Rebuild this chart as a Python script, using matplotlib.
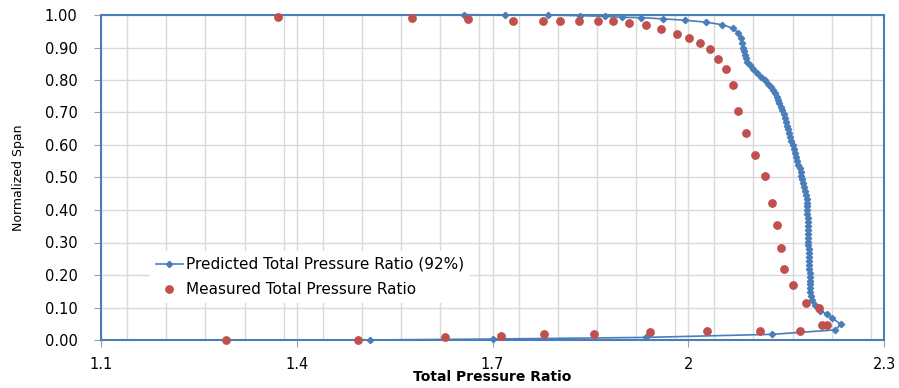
import matplotlib
matplotlib.use("Agg")
import matplotlib.pyplot as plt
from matplotlib.ticker import MultipleLocator, FormatStrFormatter

# Predicted total pressure ratio (92%) -- ordered along the curve, hub to tip
pred_x = [1.513, 1.700, 1.935, 2.129, 2.225, 2.234, 2.221, 2.212, 2.202, 2.194, 2.189,
          2.1875, 2.1870, 2.1868, 2.1866, 2.1864, 2.1862, 2.1860, 2.1858, 2.1856, 2.1853,
          2.1850, 2.1847, 2.1845, 2.1842, 2.1840, 2.1838, 2.1836, 2.1834, 2.1832, 2.1830,
          2.1828, 2.1826, 2.1824, 2.1822, 2.1820, 2.1817, 2.1810,
          2.1790, 2.1775, 2.1763, 2.1748, 2.1735, 2.1722, 2.1705, 2.1685, 2.1668, 2.1651,
          2.1635, 2.1617, 2.1600, 2.1582, 2.1562, 2.1545, 2.1530, 2.1512, 2.1495, 2.1478,
          2.1460, 2.1440, 2.1421, 2.1398, 2.1378, 2.1356, 2.1330, 2.1300, 2.1268, 2.1225,
          2.1176, 2.1115, 2.1049, 2.0995, 2.0946, 2.0905, 2.0885, 2.0870, 2.0850, 2.0839,
          2.0829, 2.0804, 2.0767, 2.0690, 2.0522, 2.0272, 1.9950, 1.9618, 1.9276, 1.8980,
          1.8724, 1.8341, 1.7855, 1.7192, 1.6568]
pred_y = [0.000, 0.003, 0.008, 0.0175, 0.031, 0.048, 0.067, 0.080, 0.090, 0.108, 0.123,
          0.135, 0.147, 0.159, 0.171, 0.183, 0.195, 0.207, 0.219, 0.231, 0.243,
          0.255, 0.267, 0.279, 0.291, 0.303, 0.315, 0.327, 0.339, 0.351, 0.363,
          0.375, 0.387, 0.399, 0.411, 0.423, 0.435, 0.447,
          0.460, 0.471, 0.482, 0.494, 0.505, 0.516, 0.528, 0.540, 0.552, 0.564,
          0.576, 0.588, 0.600, 0.612, 0.624, 0.636, 0.648, 0.660, 0.672, 0.684,
          0.696, 0.708, 0.718, 0.729, 0.739, 0.749, 0.759, 0.769, 0.779, 0.789,
          0.800, 0.810, 0.821, 0.833, 0.846, 0.856, 0.867, 0.877, 0.888, 0.898,
          0.913, 0.928, 0.944, 0.959, 0.970, 0.978, 0.984, 0.988, 0.992, 0.993,
          0.996, 0.998, 1.000, 1.000, 1.001]

# Measured total pressure ratio
meas_x = [1.371, 1.576, 1.663, 1.732, 1.777, 1.803, 1.833, 1.862, 1.885, 1.909, 1.936,
          1.959, 1.982, 2.001, 2.018, 2.033, 2.046, 2.058, 2.069, 2.076, 2.089, 2.102,
          2.117, 2.128, 2.136, 2.142, 2.147, 2.160, 2.181, 2.201, 2.205, 2.213, 2.171,
          2.110, 2.029, 1.941, 1.856, 1.779, 1.713, 1.627, 1.494, 1.292]
meas_y = [0.993, 0.990, 0.987, 0.982, 0.982, 0.982, 0.982, 0.982, 0.982, 0.976, 0.969,
          0.958, 0.943, 0.930, 0.913, 0.895, 0.866, 0.834, 0.784, 0.704, 0.636, 0.569,
          0.505, 0.422, 0.355, 0.284, 0.218, 0.168, 0.114, 0.098, 0.046, 0.046, 0.029,
          0.029, 0.029, 0.024, 0.019, 0.018, 0.012, 0.008, 0.000, 0.000]

x_ticks = [1.1, 1.4, 1.7, 2.0, 2.3]
x_tick_labels = ["1.1", "1.4", "1.7", "2", "2.3"]

BLUE = "#4A7EBB"
RED = "#C0504D"
GRID = "#D9D9D9"

fig = plt.figure(figsize=(8.99, 3.88), dpi=100)
ax = fig.add_axes([101/899, 48/388, 783/899, 325/388])

ax.plot(pred_x, pred_y, color=BLUE, lw=1.2, marker="D", ms=3.2, mec=BLUE, mfc=BLUE,
        label="Predicted Total Pressure Ratio (92%)", clip_on=False, zorder=3)
ax.plot(meas_x, meas_y, ls="none", marker="o", ms=5.3, color=RED, mec=RED,
        label="Measured Total Pressure Ratio", clip_on=False, zorder=4)

ax.set_xlim(1.1, 2.3)
ax.set_ylim(0, 1.0)
ax.set_xticks(x_ticks)
ax.set_xticklabels(x_tick_labels)
ax.xaxis.set_minor_locator(MultipleLocator(0.06))
ax.yaxis.set_major_locator(MultipleLocator(0.1))
ax.yaxis.set_major_formatter(FormatStrFormatter("%.2f"))

ax.grid(True, which="major", axis="y", color=GRID, lw=1.0, zorder=0)
ax.grid(True, which="both", axis="x", color=GRID, lw=1.0, zorder=0)
ax.set_axisbelow(True)

for s in ax.spines.values():
    s.set_color(BLUE)
    s.set_linewidth(1.5)

ax.tick_params(axis="y", which="major", direction="out", length=5, color="#A0A0A0",
               labelsize=10.5, labelcolor="black", pad=12)
ax.tick_params(axis="x", which="major", direction="out", length=5, color="#A0A0A0",
               labelsize=10.5, labelcolor="black", pad=7)
ax.tick_params(axis="x", which="minor", length=0)

ax.set_xlabel("Total Pressure Ratio", fontsize=10, fontweight="bold", labelpad=-1)
ax.set_ylabel("Normalized Span", fontsize=9, labelpad=14)

leg = ax.legend(loc="center left", bbox_to_anchor=(0.062, 0.194), fontsize=11,
                frameon=True, facecolor="white", edgecolor="none", framealpha=1,
                numpoints=1, handlelength=1.8, handletextpad=0.2, labelspacing=0.65,
                borderpad=0.4, borderaxespad=0)
leg.set_zorder(5)

fig.savefig("out.png", dpi=100)
